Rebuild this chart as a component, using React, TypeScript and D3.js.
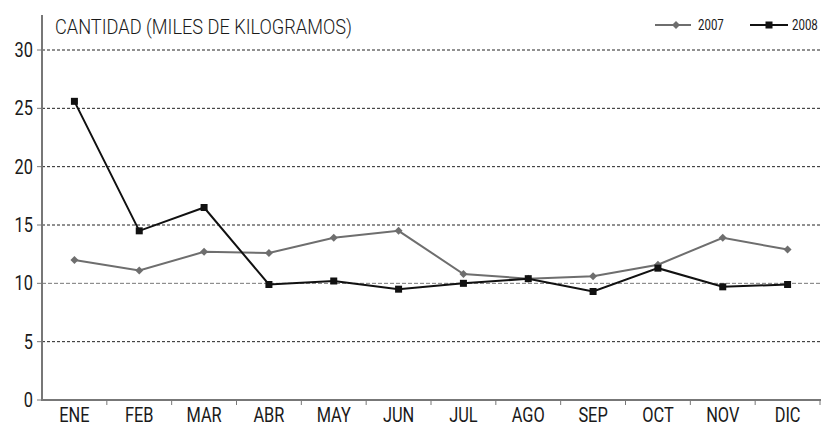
import React from "react";
import * as d3 from "d3";

const months = ["ENE", "FEB", "MAR", "ABR", "MAY", "JUN", "JUL", "AGO", "SEP", "OCT", "NOV", "DIC"];
const values2007 = [12.0, 11.1, 12.7, 12.6, 13.9, 14.5, 10.8, 10.4, 10.6, 11.6, 13.9, 12.9];
const values2008 = [25.6, 14.5, 16.5, 9.9, 10.2, 9.5, 10.0, 10.4, 9.3, 11.3, 9.7, 9.9];
const yTicks = [0, 5, 10, 15, 20, 25, 30];

const W = 824;
const H = 425;
const FONT = "Roboto, 'DejaVu Sans Condensed', sans-serif";

// condensed text: Roboto squeezed horizontally
function CText(props: { x: number; y: number; size: number; anchor?: string; sx?: number; children: any }) {
  const { x, y, size, anchor = "start", sx = 0.82, children } = props;
  return (
    <text
      transform={`translate(${x},${y}) scale(${sx},1)`}
      fontSize={size}
      textAnchor={anchor}
      fill="#1a1a1a"
    >
      {children}
    </text>
  );
}

export default function App() {
  const x = d3.scaleBand().domain(months).range([42, 820]);
  const y = d3.scaleLinear().domain([0, 30]).range([400, 50]);
  const cx = (m: string) => (x(m) as number) + x.bandwidth() / 2;

  const line = d3
    .line<number>()
    .x((_, i) => cx(months[i]))
    .y((d) => y(d));

  const diamond = (px: number, py: number, r: number) =>
    `M${px},${py - r}L${px + r},${py}L${px},${py + r}L${px - r},${py}Z`;

  return (
    <svg
      width={W}
      height={H}
      style={{ position: "absolute", left: 0, top: 0, background: "#fff" }}
      fontFamily={FONT}
    >
      {/* grid */}
      {yTicks.slice(1).map((t) => (
        <line
          key={t}
          x1={42}
          x2={820}
          y1={y(t)}
          y2={y(t)}
          stroke={t === 10 ? "#777" : "#222"}
          strokeWidth={1}
          strokeDasharray={t === 10 ? "4,2" : "3,2"}
        />
      ))}

      {/* axes */}
      <line x1={42} x2={42} y1={15} y2={401} stroke="#777" strokeWidth={2} />
      <line x1={41} x2={821} y1={400} y2={400} stroke="#777" strokeWidth={2} />
      {yTicks.map((t) => (
        <g key={t}>
          <line x1={37} x2={42} y1={y(t)} y2={y(t)} stroke="#777" strokeWidth={1} />
          <CText x={33} y={y(t) + 7} size={20} anchor="end">
            {t}
          </CText>
        </g>
      ))}
      {months.map((m) => (
        <g key={m}>
          <line
            x1={(x(m) as number) + x.bandwidth()}
            x2={(x(m) as number) + x.bandwidth()}
            y1={400}
            y2={405}
            stroke="#777"
            strokeWidth={1}
          />
          <CText x={cx(m)} y={422} size={20} anchor="middle">
            {m}
          </CText>
        </g>
      ))}

      <text
        x={55}
        y={34}
        fontSize={21}
        fontWeight={300}
        fill="#1a1a1a"
        textLength={297}
        lengthAdjust="spacingAndGlyphs"
      >
        CANTIDAD (MILES DE KILOGRAMOS)
      </text>

      {/* series 2007 */}
      <path d={line(values2007) || ""} fill="none" stroke="#6e6e6e" strokeWidth={2} />
      {values2007.map((v, i) => (
        <path key={i} d={diamond(cx(months[i]), y(v), 4)} fill="#6e6e6e" />
      ))}

      {/* series 2008 */}
      <path d={line(values2008) || ""} fill="none" stroke="#111" strokeWidth={2} />
      {values2008.map((v, i) => (
        <rect key={i} x={cx(months[i]) - 3.5} y={y(v) - 3.5} width={7} height={7} fill="#111" />
      ))}

      {/* legend */}
      <line x1={655} x2={691} y1={25} y2={25} stroke="#6e6e6e" strokeWidth={2} />
      <path d={diamond(676, 25, 4)} fill="#6e6e6e" />
      <CText x={698} y={30} size={14}>2007</CText>
      <line x1={750} x2={788} y1={25} y2={25} stroke="#111" strokeWidth={2} />
      <rect x={765.5} y={21.5} width={7} height={7} fill="#111" />
      <CText x={792} y={30} size={14}>2008</CText>
    </svg>
  );
}
